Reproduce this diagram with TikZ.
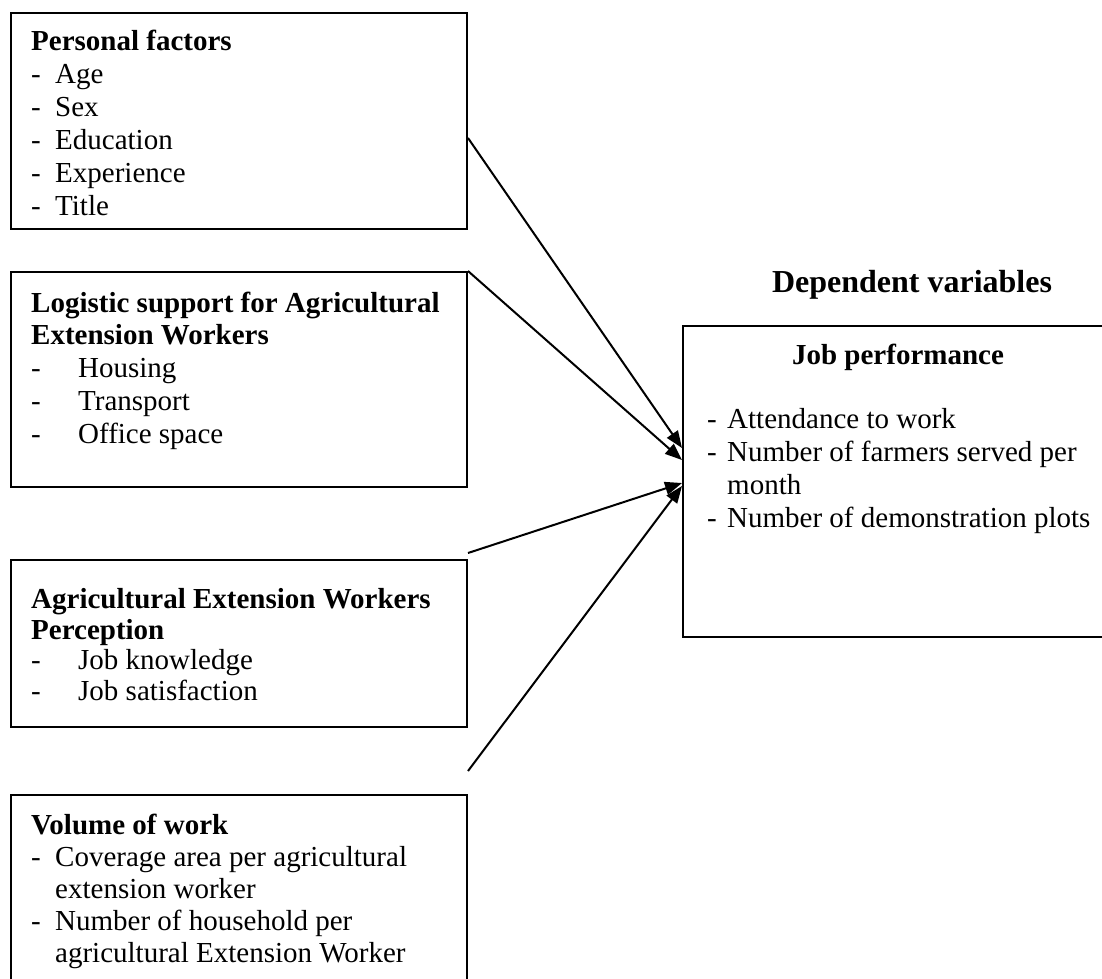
\documentclass[tikz,border=0pt]{standalone}
\usepackage{fontspec}
\setmainfont{Liberation Serif}
\usetikzlibrary{arrows.meta,calc}
\begin{document}
\begin{tikzpicture}[x=1pt,y=-1pt,
  box/.style={draw, line width=2pt, inner sep=0pt, anchor=north west},
  txt/.style={anchor=base west, inner sep=0pt, font=\fontsize{29}{33}\selectfont},
  hd/.style={anchor=base west, inner sep=0pt, font=\fontsize{29}{33}\selectfont\bfseries},
  arr/.style={-{Triangle[length=17pt,width=13pt]}, line width=2pt}]
\clip (0,0) rectangle (1102,978);
\fill[white] (0,0) rectangle (1102,978);
% boxes
\node[box, minimum width=456pt, minimum height=216pt] (b1) at (10,12) {};
\node[box, minimum width=456pt, minimum height=215pt] (b2) at (10,271) {};
\node[box, minimum width=456pt, minimum height=167pt] (b3) at (10,559) {};
\node[box, minimum width=456pt, minimum height=210pt] (b4) at (10,794) {};
\node[box, minimum width=432pt, minimum height=311pt] (b5) at (682,325) {};
% box 1
\node[hd] (t1) at (31,50) {Personal factors};
\node[txt] (d11) at (31,83) {-}; \node[txt] (i11) at (55,83) {Age};
\node[txt] (d12) at (31,116) {-}; \node[txt] (i12) at (55,116) {Sex};
\node[txt] (d13) at (31,149) {-}; \node[txt] (i13) at (55,149) {Education};
\node[txt] (d14) at (31,182) {-}; \node[txt] (i14) at (55,182) {Experience};
\node[txt] (d15) at (31,215) {-}; \node[txt] (i15) at (55,215) {Title};
% box 2
\node[hd] (t2a) at (31,312) {Logistic support for Agricultural};
\node[hd] (t2b) at (31,344) {Extension Workers};
\node[txt] (d21) at (31,377) {-}; \node[txt] (i21) at (78,377) {Housing};
\node[txt] (d22) at (31,410) {-}; \node[txt] (i22) at (78,410) {Transport};
\node[txt] (d23) at (31,443) {-}; \node[txt] (i23) at (78,443) {Office space};
% box 3
\node[hd] (t3a) at (31,608) {Agricultural Extension Workers};
\node[hd] (t3b) at (31,639) {Perception};
\node[txt] (d31) at (31,669) {-}; \node[txt] (i31) at (78,669) {Job knowledge};
\node[txt] (d32) at (31,700) {-}; \node[txt] (i32) at (78,700) {Job satisfaction};
% box 4
\node[hd] (t4) at (31,834) {Volume of work};
\node[txt] (d41) at (31,866) {-}; \node[txt] (i41) at (55,866) {Coverage area per agricultural};
\node[txt] (i41b) at (55,898) {extension worker};
\node[txt] (d42) at (31,930) {-}; \node[txt] (i42) at (55,930) {Number of household per};
\node[txt] (i42b) at (55,962) {agricultural Extension Worker};
% box 5
\node[hd, anchor=base] (t5) at (898,364) {Job performance};
\node[txt] (d51) at (707,428) {-}; \node[txt] (i51) at (727,428) {Attendance to work};
\node[txt] (d52) at (707,461) {-}; \node[txt] (i52) at (727,461) {Number of farmers served per};
\node[txt] (i52b) at (727,494) {month};
\node[txt] (d53) at (707,527) {-}; \node[txt] (i53) at (727,527) {Number of demonstration plots};
% title
\node[anchor=base, inner sep=0pt, font=\fontsize{32}{37}\selectfont\bfseries] (dv) at (912,292) {Dependent variables};
% connector ends
\coordinate (s1) at ($(b1.north east)+(0,126)$);
\coordinate (s2) at (b2.north east);
\coordinate (s3) at ($(b3.north east)+(0,-6)$);
\coordinate (s4) at ($(b3.south east)+(0,43)$);
\coordinate (e1) at ($(b5.north west)+(0,123)$);
\coordinate (e2) at ($(b5.north west)+(0,135)$);
\coordinate (e3) at ($(b5.north west)+(0,158)$);
\coordinate (e4) at ($(b5.north west)+(0,161)$);
\draw[arr] (s1) -- (e1);
\draw[arr] (s2) -- (e2);
\draw[arr] (s3) -- (e3);
\draw[arr] (s4) -- (e4);
\end{tikzpicture}
\end{document}
